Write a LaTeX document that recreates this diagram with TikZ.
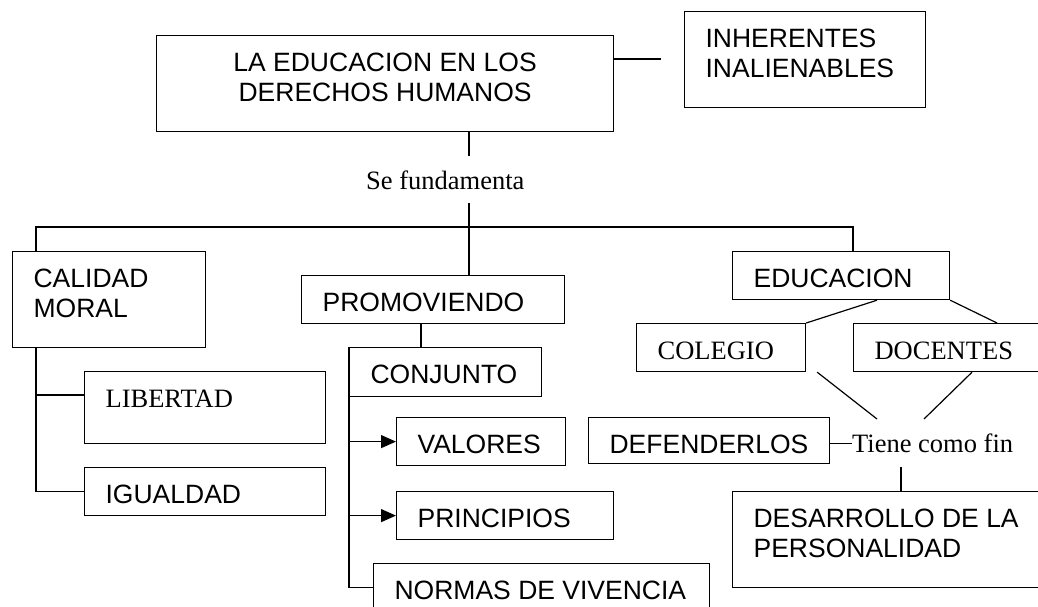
\documentclass[tikz,border=0pt]{standalone}
\usepackage{fontspec}
\setmainfont{Liberation Serif}
\setsansfont{Liberation Sans}
\usetikzlibrary{arrows.meta}
\newcommand{\cajatxt}[3]{\parbox[t][#2][t]{#1}{\vspace*{15pt}\raggedright\leftskip=21pt\strut#3}}
\newcommand{\cajamid}[3]{\parbox[t][#2][t]{#1}{\vspace*{15pt}\centering\strut#3}}
\begin{document}
\begin{tikzpicture}[x=1pt,y=-1pt,
  caja/.style={draw,line width=1.2pt,inner sep=0pt,anchor=north west,font=\sffamily\fontsize{26.5}{30}\selectfont},
  cajaserif/.style={caja,font=\rmfamily\fontsize{26.5}{30}\selectfont},
  texto/.style={inner sep=0pt,anchor=base west,font=\rmfamily\fontsize{26.5}{30}\selectfont},
  linea/.style={line width=1.2pt},
  flecha/.style={linea,-{Triangle[length=15pt,width=13pt]}}]
\useasboundingbox (0,0) rectangle (1038,607);
\clip (0,0) rectangle (1038,607);
%top
\node[caja](main)at(156,35){\cajamid{457pt}{96pt}{LA EDUCACION EN LOS\\DERECHOS HUMANOS}};
\node[caja](inher)at(684,11){\cajatxt{241pt}{96pt}{INHERENTES\\INALIENABLES}};
\node[texto](fund)at(366,189.3){Se fundamenta};
%first row
\node[caja](calidad)at(12,251){\cajatxt{193pt}{96pt}{CALIDAD\\MORAL}};
\node[caja](promo)at(301,275){\cajatxt{263pt}{48pt}{PROMOVIENDO}};
\node[caja](educ)at(732,251){\cajatxt{217pt}{48pt}{EDUCACION}};
%left column
\node[cajaserif](libert)at(84,371){\cajatxt{241pt}{72pt}{LIBERTAD}};
\node[caja](igual)at(84,467){\cajatxt{241pt}{48pt}{IGUALDAD}};
%middle column
\node[caja](conj)at(349,347){\cajatxt{192pt}{49pt}{CONJUNTO}};
\node[caja](valores)at(396,417){\cajatxt{169pt}{48pt}{VALORES}};
\node[caja](princ)at(396,491){\cajatxt{217pt}{48pt}{PRINCIPIOS}};
\node[caja](normas)at(373,563){\cajatxt{336pt}{48pt}{NORMAS DE VIVENCIA}};
%right column
\node[cajaserif](colegio)at(636,323){\cajatxt{169pt}{48pt}{COLEGIO}};
\node[cajaserif](docentes)at(853,323){\cajatxt{230pt}{48pt}{DOCENTES}};
\node[caja](defender)at(588,417){\cajatxt{241pt}{46pt}{DEFENDERLOS}};
\node[texto](tiene)at(852,452.7){Tiene como fin};
\node[caja](desarr)at(732,491){\cajatxt{340pt}{96pt}{DESARROLLO DE LA\\PERSONALIDAD}};
%free ends
\coordinate(m1)at(661,59);
\coordinate(f1)at(469,156);
\coordinate(f2)at(469,203);
\coordinate(busL)at(36,227);
\coordinate(busR)at(853,227);
\coordinate(lb)at(36,395);
\coordinate(pc)at(421,0);
\coordinate(t1)at(877,419);
\coordinate(t2)at(924,419);
\coordinate(t3)at(901,467);
%connectors
\draw[linea](main.east|-m1)--(m1);
\draw[linea](f1|-main.south)--(f1);
\draw[linea](f2)--(promo.north-|f2);
\draw[linea](calidad.north-|busL)--(busL)--(busR)--(educ.north-|busR);
\draw[linea](calidad.south-|busL)|-(igual.west);
\draw[linea](lb)--(lb-|libert.west);
\draw[linea](promo.south-|pc)--(conj.north-|pc);
\draw[linea](conj.north west)--(normas.west-|conj.west)--(normas.west);
\draw[flecha](valores.west-|conj.west)--(valores.west);
\draw[flecha](princ.west-|conj.west)--(princ.west);
\draw[linea]([xshift=145pt]educ.south west)--(colegio.north east);
\draw[linea](educ.south east)--([xshift=144pt]docentes.north west);
\draw[linea]([xshift=11pt]colegio.south east)--(t1);
\draw[linea]([xshift=119pt]docentes.south west)--(t2);
\draw[linea](defender.east|-tiene.west)--(tiene.west);
\draw[linea](t3)--(desarr.north-|t3);
\end{tikzpicture}
\end{document}
